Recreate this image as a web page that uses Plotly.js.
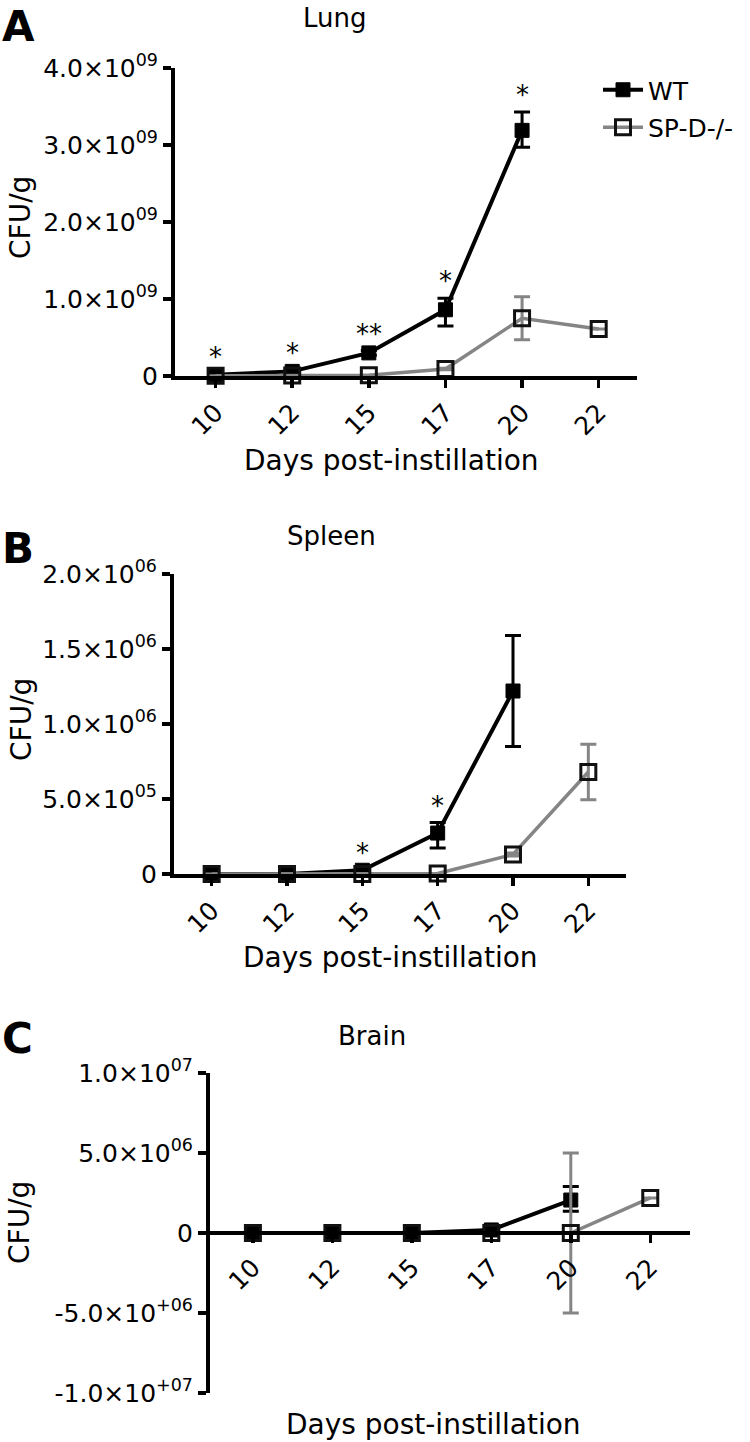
<!DOCTYPE html>
<html>
<head>
<meta charset="utf-8">
<script src="https://cdn.plot.ly/plotly-3.0.1.min.js"></script>
<style>html,body{margin:0;padding:0;background:#fff;}#chart{width:750px;height:1442px;}</style>
</head>
<body>
<div id="chart"></div>
<script>
// ---------- data ----------
const days = ['10', '12', '15', '17', '20', '22'];
const daysWT = ['10', '12', '15', '17', '20'];

const lungWT = [1.5e7, 6e7, 3.0e8, 8.6e8, 3.19e9];
const lungWTErrPlus = [1e7, 2e7, 3e7, 1.5e8, 2.4e8];
const lungWTErrMinus = [1e7, 2e7, 3e7, 2.1e8, 2.2e8];
const lungSPD = [3e6, 5e6, 1e7, 9e7, 7.5e8, 6.1e8];
const lungSPDErr = [0, 0, 0, 1e7, 2.8e8, 0];
const lungStars = ['*', '*', '**', '*', '*'];

const spleenWT = [0, 0, 2.5e4, 2.73e5, 1.22e6];
const spleenWTErrPlus = [0, 0, 5e3, 7e4, 3.7e5];
const spleenWTErrMinus = [0, 0, 5e3, 1.0e5, 3.7e5];
const spleenSPD = [0, 0, 0, 3e3, 1.3e5, 6.8e5];
const spleenSPDErr = [0, 0, 0, 0, 1e4, 1.85e5];
const spleenStars = ['', '', '*', '*', ''];

const brainWT = [0, 0, 0, 1.9e5, 2.06e6];
const brainWTErrPlus = [0, 0, 0, 5e4, 8.5e5];
const brainWTErrMinus = [0, 0, 0, 5e4, 7e5];
const brainSPD = [0, 0, 0, 0, 0, 2.19e6];
const brainSPDErr = [0, 0, 0, 0, 5.0e6, 0];

const lungTicks = [0, 1e9, 2e9, 3e9, 4e9];
const lungTickText = ['0', '1.0×10<sup>09</sup>', '2.0×10<sup>09</sup>', '3.0×10<sup>09</sup>', '4.0×10<sup>09</sup>'];
const spleenTicks = [0, 5e5, 1e6, 1.5e6, 2e6];
const spleenTickText = ['0', '5.0×10<sup>05</sup>', '1.0×10<sup>06</sup>', '1.5×10<sup>06</sup>', '2.0×10<sup>06</sup>'];
const brainTicks = [-1e7, -5e6, 0, 5e6, 1e7];
const brainTickText = ['-1.0×10<sup>+07</sup>', '-5.0×10<sup>+06</sup>', '0', '5.0×10<sup>06</sup>', '1.0×10<sup>07</sup>'];

const panelTitles = ['Lung', 'Spleen', 'Brain'];
const panelLetters = ['A', 'B', 'C'];
const seriesNames = ['WT', 'SP-D-/-'];
const yTitle = 'CFU/g';
const xTitle = 'Days post-instillation';

// ---------- helpers ----------
const W = 750, H = 1442;
const px = v => v / W;
const py = v => 1 - v / H;
const FONT = 'DejaVu Sans, Arial, sans-serif';
const GRAY = '#858585';

function wtTrace(y, ep, em, xa, ya, show) {
  return {
    type: 'scatter', mode: 'lines+markers', x: daysWT, y: y,
    xaxis: xa, yaxis: ya, name: seriesNames[0], showlegend: show, legendgroup: 'wt',
    line: {color: '#000', width: 4},
    marker: {symbol: 'square', size: 14, color: '#000', line: {color: '#000', width: 1}},
    error_y: {type: 'data', symmetric: false, array: ep, arrayminus: em, color: '#000', thickness: 3, width: 8},
    cliponaxis: false
  };
}
function spdTrace(y, e, xa, ya, show) {
  return {
    type: 'scatter', mode: 'lines+markers', x: days, y: y,
    xaxis: xa, yaxis: ya, name: seriesNames[1], showlegend: show, legendgroup: 'spd',
    line: {color: GRAY, width: 3.5},
    marker: {symbol: 'square-open', size: 15, color: '#111', line: {color: '#111', width: 3}},
    error_y: {type: 'data', array: e, color: GRAY, thickness: 3, width: 8},
    cliponaxis: false
  };
}

const data = [
  wtTrace(lungWT, lungWTErrPlus, lungWTErrMinus, 'x', 'y', true),
  spdTrace(lungSPD, lungSPDErr, 'x', 'y', true),
  wtTrace(spleenWT, spleenWTErrPlus, spleenWTErrMinus, 'x2', 'y2', false),
  spdTrace(spleenSPD, spleenSPDErr, 'x2', 'y2', false),
  wtTrace(brainWT, brainWTErrPlus, brainWTErrMinus, 'x3', 'y3', false),
  spdTrace(brainSPD, brainSPDErr, 'x3', 'y3', false)
];

function xAxis(domain, range, anchor, extra) {
  return Object.assign({
    domain: domain, range: range, anchor: anchor, type: 'category',
    showline: true, linecolor: '#000', linewidth: 4,
    ticks: 'outside', ticklen: 8, tickwidth: 3.5, tickcolor: '#000',
    tickangle: -45, tickfont: {family: FONT, size: 25, color: '#000'},
    showgrid: false, zeroline: false, fixedrange: true
  }, extra || {});
}
function yAxis(domain, range, anchor, vals, text) {
  return {
    domain: domain, range: range, anchor: anchor,
    tickmode: 'array', tickvals: vals, ticktext: text,
    showline: true, linecolor: '#000', linewidth: 4,
    ticks: 'outside', ticklen: 8, tickwidth: 3.5, tickcolor: '#000',
    tickfont: {family: FONT, size: 25, color: '#000'},
    showgrid: false, zeroline: false, fixedrange: true
  };
}

const annotations = [];
function addText(text, x, y, size, opts) {
  annotations.push(Object.assign({
    text: text, xref: 'paper', yref: 'paper', x: px(x), y: py(y),
    xanchor: 'center', yanchor: 'middle', showarrow: false,
    font: {family: FONT, size: size, color: '#000'}
  }, opts || {}));
}
// panel letters
addText('<b>' + panelLetters[0] + '</b>', 0, 0, 42, {xanchor: 'left', yanchor: 'top'});
addText('<b>' + panelLetters[1] + '</b>', 0, 522, 42, {xanchor: 'left', yanchor: 'top'});
addText('<b>' + panelLetters[2] + '</b>', 0, 1012, 42, {xanchor: 'left', yanchor: 'top'});
// panel titles
addText(panelTitles[0], 335, 18, 26);
addText(panelTitles[1], 331, 536, 26);
addText(panelTitles[2], 372, 1036, 26);
// y titles
addText(yTitle, 21, 218, 28, {textangle: -90});
addText(yTitle, 21, 720, 28, {textangle: -90});
addText(yTitle, 19, 1223, 28, {textangle: -90});
// x titles
addText(xTitle, 391, 460, 28);
addText(xTitle, 390, 957, 28);
addText(xTitle, 433, 1424, 28);

// significance stars (placed above each WT point's error bar)
function addStars(stars, vals, errs, xa, ya) {
  stars.forEach((s, i) => {
    if (!s) return;
    annotations.push({
      text: s, xref: xa, yref: ya, x: i, y: vals[i] + errs[i],
      yanchor: 'middle', yshift: 17, showarrow: false,
      font: {family: FONT, size: 26, color: '#000'}
    });
  });
}
addStars(lungStars, lungWT, lungWTErrPlus, 'x', 'y');
addStars(spleenStars, spleenWT, spleenWTErrPlus, 'x2', 'y2');

const layout = {
  width: W, height: H,
  margin: {l: 0, r: 0, t: 0, b: 0},
  paper_bgcolor: '#fff', plot_bgcolor: 'rgba(0,0,0,0)',
  font: {family: FONT, color: '#000'},
  showlegend: true,
  legend: {
    x: px(598), y: py(67), xanchor: 'left', yanchor: 'top',
    font: {family: FONT, size: 25, color: '#000'},
    itemwidth: 40,
    traceorder: 'grouped', tracegroupgap: 2,
    bgcolor: 'rgba(0,0,0,0)', borderwidth: 0
  },
  xaxis: xAxis([px(175), px(637)], [-0.53, 5.5], 'y'),
  yaxis: yAxis([py(376), py(68)], [0, 4e9], 'x', lungTicks, lungTickText),
  xaxis2: xAxis([px(174), px(626)], [-0.5, 5.5], 'y2'),
  yaxis2: yAxis([py(874), py(574)], [0, 2e6], 'x2', spleenTicks, spleenTickText),
  xaxis3: xAxis([px(210), px(690)], [-0.54, 5.5], 'free', {position: py(1233)}),
  yaxis3: yAxis([py(1393), py(1073)], [-1e7, 1e7], 'x3', brainTicks, brainTickText),
  annotations: annotations
};

Plotly.newPlot('chart', data, layout, {displayModeBar: false, staticPlot: true});
</script>
</body>
</html>
